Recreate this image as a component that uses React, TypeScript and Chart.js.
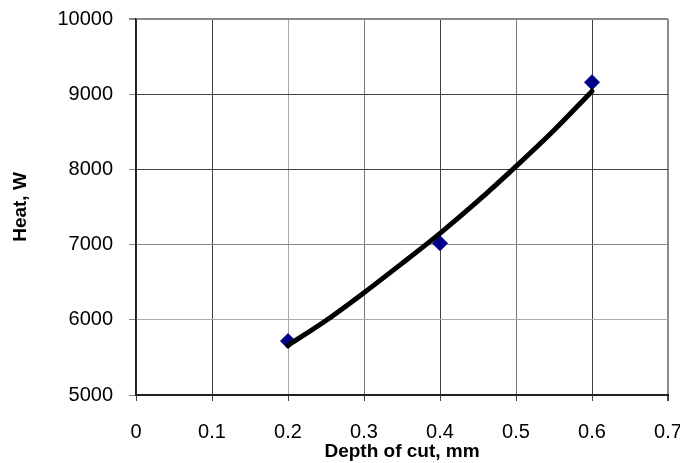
import React, { useEffect, useRef } from "react";
import { Chart, registerables } from "chart.js";

Chart.register(...registerables);

// Measured points
const depthOfCut = [0.2, 0.4, 0.6];
const heatMeasured = [5717, 7018, 9159];

// Trend line
const trendDepth = [0.2, 0.25, 0.3, 0.35, 0.4, 0.45, 0.5, 0.55, 0.6];
const trendHeat = [5660, 5990, 6360, 6750, 7150, 7580, 8040, 8520, 9040];

const xTicks = [0, 0.1, 0.2, 0.3, 0.4, 0.5, 0.6, 0.7];
const yTicks = [5000, 6000, 7000, 8000, 9000, 10000];

const xGridColors = ["#333", "#404040", "#a8a8a8", "#777", "#404040", "#777", "#404040", "#8a8a8a"];
const yGridColors = ["#333", "#aaaaaa", "#888", "#404040", "#404040", "#8a8a8a"];

export default function App() {
  const ref = useRef<HTMLCanvasElement | null>(null);

  useEffect(() => {
    if (!ref.current) return;
    const font = "'Liberation Sans', Arial, sans-serif";
    const chart = new Chart(ref.current, {
      type: "scatter",
      data: {
        datasets: [
          {
            label: "Trend",
            data: trendDepth.map((x, i) => ({ x, y: trendHeat[i] })),
            showLine: true,
            borderColor: "#000",
            borderWidth: 5,
            borderCapStyle: "round",
            pointRadius: 0,
            pointHoverRadius: 0,
            tension: 0.4,
            cubicInterpolationMode: "monotone",
            order: 1,
          },
          {
            label: "Heat",
            data: depthOfCut.map((x, i) => ({ x, y: heatMeasured[i] })),
            pointStyle: "rectRot",
            pointRadius: 7.5,
            backgroundColor: "#000088",
            borderColor: "#000088",
            borderWidth: 1,
            showLine: false,
            order: 2,
          },
        ],
      },
      options: {
        responsive: false,
        animation: false,
        devicePixelRatio: 1,
        layout: { padding: { left: 0, right: 12, top: 19, bottom: 0 } },
        plugins: { legend: { display: false }, tooltip: { enabled: false } },
        scales: {
          x: {
            type: "linear",
            min: 0,
            max: 0.7,
            afterBuildTicks: (s: any) => {
              s.ticks = xTicks.map((v) => ({ value: v }));
            },
            afterFit: (s: any) => {
              s.height = 68;
              s.paddingLeft = 0;
              s.paddingRight = 0;
            },
            ticks: {
              color: "#000",
              font: { family: font, size: 20 },
              padding: 19,
              maxRotation: 0,
              callback: (v: any) => String(v),
            },
            grid: {
              color: (c: any) => xGridColors[c.index] ?? "#555",
              lineWidth: (c: any) => (c.index === 7 ? 2 : 1),
              tickLength: 6,
              tickColor: "#444",
            },
            border: { color: "#222", width: 2 },
            title: {
              display: true,
              text: "Depth of cut, mm",
              color: "#000",
              font: { family: font, size: 19, weight: "bold" },
              padding: { top: 0, bottom: 0 },
            },
          },
          y: {
            type: "linear",
            min: 5000,
            max: 10000,
            afterBuildTicks: (s: any) => {
              s.ticks = yTicks.map((v) => ({ value: v }));
            },
            afterFit: (s: any) => {
              s.width = 136;
              s.paddingTop = 0;
              s.paddingBottom = 0;
            },
            ticks: {
              color: "#000",
              font: { family: font, size: 20 },
              padding: 16,
              callback: (v: any) => String(v),
            },
            grid: {
              color: (c: any) => yGridColors[c.index] ?? "#555",
              lineWidth: (c: any) => (c.index === 5 ? 2 : 1),
              tickLength: 7,
              tickColor: "#888",
            },
            border: { color: "#222", width: 1.5 },
            title: {
              display: true,
              text: "Heat, W",
              color: "#000",
              font: { family: font, size: 19, weight: "bold" },
              padding: { top: 9, bottom: 0 },
            },
          },
        },
      },
    });
    return () => chart.destroy();
  }, []);

  return (
    <div style={{ position: "fixed", left: 0, top: 0, width: 680, height: 463, background: "#fff" }}>
      <canvas ref={ref} width={680} height={463} style={{ width: 680, height: 463, display: "block" }} />
    </div>
  );
}
